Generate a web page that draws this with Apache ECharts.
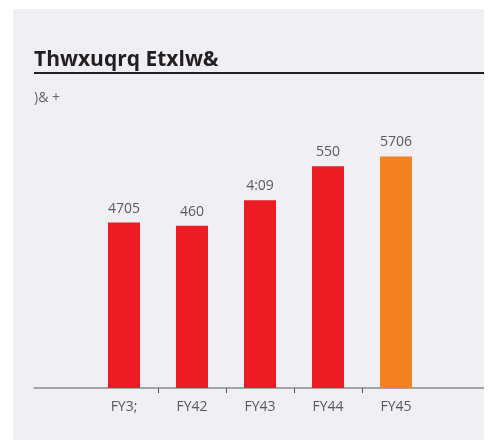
<!DOCTYPE html>
<html>
<head>
<meta charset="utf-8">
<script src="https://cdn.jsdelivr.net/npm/echarts@6/dist/echarts.min.js"></script>
<style>
  html, body { margin: 0; padding: 0; background: #ffffff; }
  #chart { position: absolute; left: 13px; top: 9px; width: 471px; height: 431px; background: #f0eff4; }
</style>
</head>
<body>
<div id="chart"></div>
<script>
const titleText = 'Thwxuqrq Etxlw&';
const subText = ')& +';
const categories = ['FY3;', 'FY42', 'FY43', 'FY44', 'FY45'];
const values = [25.3, 24.8, 28.7, 33.9, 35.4];
const valueLabels = ['4705', '460', '4:09', '550', '5706'];
const barColors = ['#ed1c24', '#ed1c24', '#ed1c24', '#ed1c24', '#f58220'];

const chart = echarts.init(document.getElementById('chart'));
const font = '"Open Sans", "Noto Sans", sans-serif';

// category positions on a value axis so the axis line can run past the bars
const catIdx = categories.map((c, i) => i);

chart.setOption({
  animation: false,
  textStyle: { fontFamily: font },
  title: {
    text: titleText,
    left: 16,
    top: 36,
    textStyle: { fontSize: 21, fontWeight: 'bold', color: '#231f20', fontFamily: font }
  },
  graphic: [
    { type: 'line', shape: { x1: 21, y1: 64, x2: 472, y2: 64 }, style: { stroke: '#231f20', lineWidth: 2 } },
    { type: 'text', left: 21, top: 82, style: { text: subText, fontSize: 14, fill: '#666', fontFamily: font } }
  ],
  grid: { left: 21, right: 0, top: 52, bottom: 52 },
  xAxis: {
    type: 'value',
    min: -90 / 68,
    max: 360 / 68,
    splitLine: { show: false },
    axisLine: { show: true, lineStyle: { color: '#8a8a8a', width: 1.5 } },
    axisTick: { show: true, length: 5, customValues: [0.5, 1.5, 2.5, 3.5], lineStyle: { color: '#555' } },
    axisLabel: {
      customValues: catIdx,
      formatter: v => categories[Math.round(v)],
      color: '#5a5a5a',
      fontSize: 14,
      margin: 12,
      fontFamily: font
    }
  },
  yAxis: { type: 'value', min: 0, max: 50, show: false },
  series: [{
    type: 'bar',
    barWidth: 32,
    data: values.map((v, i) => ({ value: [i, v], itemStyle: { color: barColors[i] } })),
    label: {
      show: true,
      position: 'top',
      distance: 7,
      color: '#5a5a5a',
      fontSize: 14,
      fontFamily: font,
      formatter: p => valueLabels[p.dataIndex]
    }
  }]
});
</script>
</body>
</html>
